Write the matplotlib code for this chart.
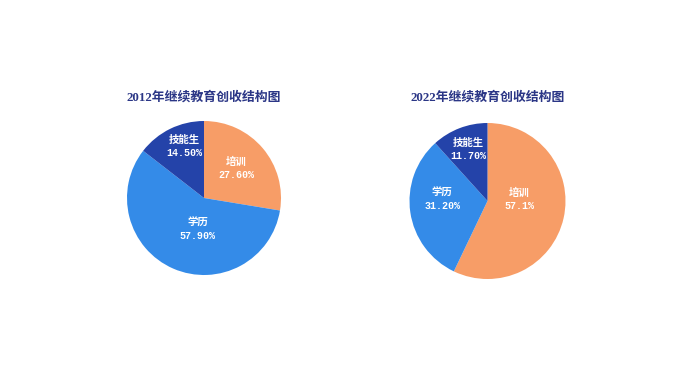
import matplotlib
matplotlib.use("Agg")
import matplotlib.pyplot as plt

# data
CATEGORIES = ["培训", "学历", "技能生"]
SHARES_2012 = [27.6, 57.9, 14.5]
SHARES_2022 = [57.1, 31.2, 11.7]
LABELS_2012 = ["27.60%", "57.90%", "14.50%"]
LABELS_2022 = ["57.1%", "31.20%", "11.70%"]
TITLES = ["2012年继续教育创收结构图", "2022年继续教育创收结构图"]

COLORS = ["#F79D67", "#348BE8", "#2443A9"]
TITLE_COLOR = "#2B3686"

# label centres in pie units (radius = 1), placed by eye
LABEL_POS_2012 = [(0.42, 0.39), (-0.085, -0.41), (-0.25, 0.665)]
LABEL_POS_2022 = [(0.41, 0.02), (-0.58, 0.02), (-0.25, 0.66)]

W, H = 698, 392
fig = plt.figure(figsize=(W / 100, H / 100), dpi=100)
fig.patch.set_facecolor("white")

TITLE_FONT = ["Liberation Serif", "Noto Sans CJK SC"]
NAME_FONT = ["Noto Sans CJK SC"]
NUM_FONT = ["Liberation Mono"]


def draw_pie(cx, cy, r, shares, pct_labels, label_pos, title, title_y):
    ax = fig.add_axes([(cx - r) / W, (H - cy - r) / H, 2 * r / W, 2 * r / H])
    ax.pie(shares, colors=COLORS, startangle=90, counterclock=False,
           radius=1.0, wedgeprops={"linewidth": 0})
    ax.set_xlim(-1, 1)
    ax.set_ylim(-1, 1)
    ax.set_aspect("equal")
    ax.axis("off")
    for name, pct, (x, y) in zip(CATEGORIES, pct_labels, label_pos):
        ax.text(x, y + 0.085, name, color="white", fontsize=7.5, fontweight="bold",
                family=NAME_FONT, ha="center", va="center")
        ax.text(x, y - 0.085, pct, color="white", fontsize=7.2, fontweight="bold",
                family=NUM_FONT, ha="center", va="center")
    fig.text(cx / W, 1 - title_y / H, title, color=TITLE_COLOR, fontsize=9.3,
             fontweight="bold", family=TITLE_FONT, ha="center", va="center")


draw_pie(204, 198, 77, SHARES_2012, LABELS_2012, LABEL_POS_2012, TITLES[0], 97)
draw_pie(487.5, 201, 78, SHARES_2022, LABELS_2022, LABEL_POS_2022, TITLES[1], 97)

fig.savefig("out.png", dpi=100)
